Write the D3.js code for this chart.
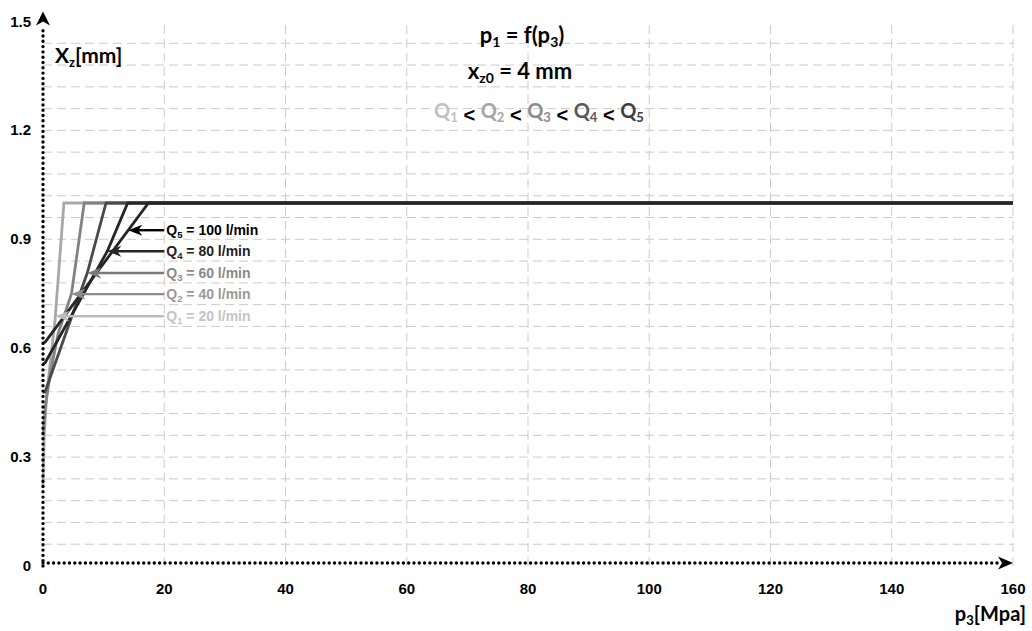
<!DOCTYPE html>
<html>
<head>
<meta charset="utf-8">
<script src="https://cdn.jsdelivr.net/npm/d3@7"></script>
<style>
  body { margin: 0; background: #fff; }
  svg { display: block; }
</style>
</head>
<body>
<svg width="1032" height="631"></svg>
<script>
// flow rates and their curves x_z = f(p3)
var flowNames = ["Q1", "Q2", "Q3", "Q4", "Q5"];
var flowRates = [20, 40, 60, 80, 100];
var p3Q1 = [0, 0.2, 0.6, 1.2, 2.0, 3.45, 160];
var xzQ1 = [0.22, 0.36, 0.47, 0.56, 0.68, 1.0, 1.0];
var p3Q2 = [0, 0.4, 1.2, 2.5, 4.7, 6.8, 160];
var xzQ2 = [0.36, 0.44, 0.53, 0.64, 0.75, 1.0, 1.0];
var p3Q3 = [0, 0.35, 7.3, 10.4, 160];
var xzQ3 = [0.477, 0.48, 0.807, 1.0, 1.0];
var p3Q4 = [0, 0.35, 10.6, 13.97, 160];
var xzQ4 = [0.556, 0.56, 0.867, 1.0, 1.0];
var p3Q5 = [0, 0.35, 17.4, 160];
var xzQ5 = [0.614, 0.617, 1.0, 1.0];
var labelLevels = [0.688, 0.749, 0.807, 0.867, 0.925];   // where the arrows hit
var labelStartP = 20;

var xTicks = [0, 20, 40, 60, 80, 100, 120, 140, 160];
var yTicks = [0, 0.3, 0.6, 0.9, 1.2, 1.5];
var yGrid = d3.range(1, 25).map(i => i * 0.06);

var lineColors  = ["#a8a8a8", "#828282", "#4a4a4a", "#262626", "#262626"];
var labelColors = ["#c4c4c4", "#9a9a9a", "#8a8a8a", "#1e1e1e", "#000000"];
var arrowColors = ["#bdbdbd", "#8c8c8c", "#7a7a7a", "#262626", "#000000"];
var titleQColors = ["#bfbfbf", "#a6a6a6", "#8c8c8c", "#595959", "#404040"];

var series = [
    {p: p3Q1, x: xzQ1}, {p: p3Q2, x: xzQ2}, {p: p3Q3, x: xzQ3},
    {p: p3Q4, x: xzQ4}, {p: p3Q5, x: xzQ5}
].map(function(s, i) {
    return { name: flowNames[i], rate: flowRates[i],
             pts: s.p.map((v, j) => [v, s.x[j]]) };
});

var svg = d3.select("svg");
var sx = d3.scaleLinear().domain([0, 160]).range([43, 1013]);
var sy = d3.scaleLinear().domain([0, 1.5]).range([566, 21.5]);

var sans = "'Liberation Sans', Arial, sans-serif";
var cal = "Lato, 'Open Sans', sans-serif";

// grid
var grid = svg.append("g").attr("stroke", "#cbcbcb").attr("stroke-width", 1)
    .attr("stroke-dasharray", "9,5");
grid.selectAll(".hg").data(yGrid).enter().append("line")
    .attr("x1", sx(0)).attr("x2", sx(160))
    .attr("y1", d => sy(d)).attr("y2", d => sy(d));
grid.selectAll(".vg").data(xTicks.slice(1)).enter().append("line")
    .attr("x1", d => sx(d)).attr("x2", d => sx(d))
    .attr("y1", sy(0)).attr("y2", sy(1.5));

// curves
var lineMaker = d3.line().x(d => sx(d[0])).y(d => sy(d[1]));
svg.append("g").selectAll("path").data(series).enter().append("path")
    .attr("fill", "none")
    .attr("stroke", (d, i) => lineColors[i])
    .attr("stroke-width", 2.8)
    .attr("stroke-linejoin", "miter")
    .attr("d", d => lineMaker(d.pts));

// axes (dotted with arrows)
var axisY0 = sy(0) - 3;
svg.append("line")
    .attr("x1", sx(0)).attr("x2", sx(0))
    .attr("y1", sy(0)).attr("y2", sy(1.5) + 4)
    .attr("stroke", "#000").attr("stroke-width", 3.4)
    .attr("stroke-linecap", "round").attr("stroke-dasharray", "0,5.3");
svg.append("line")
    .attr("x1", sx(0)).attr("x2", sx(160) - 12)
    .attr("y1", axisY0).attr("y2", axisY0)
    .attr("stroke", "#000").attr("stroke-width", 3.4)
    .attr("stroke-linecap", "round").attr("stroke-dasharray", "0,5.3");
var ty = sy(1.5) - 10, tx = sx(0);
svg.append("path")
    .attr("d", `M${tx},${ty} L${tx + 7},${ty + 14} L${tx},${ty + 10} L${tx - 7},${ty + 14} Z`)
    .attr("fill", "#000");
var ax = sx(160);
svg.append("path")
    .attr("d", `M${ax},${axisY0} L${ax - 15},${axisY0 - 6.5} L${ax - 11},${axisY0} L${ax - 15},${axisY0 + 6.5} Z`)
    .attr("fill", "#000");

// tick labels
svg.append("g").selectAll("text").data(xTicks).enter().append("text")
    .attr("x", d => sx(d)).attr("y", 594)
    .attr("text-anchor", "middle")
    .attr("font-family", sans).attr("font-weight", "bold").attr("font-size", 15)
    .text(d => d);
svg.append("g").selectAll("text").data(yTicks).enter().append("text")
    .attr("x", 31).attr("y", d => sy(d) + 5)
    .attr("text-anchor", "end")
    .attr("font-family", sans).attr("font-weight", "bold").attr("font-size", 15)
    .text(d => d);

// axis titles
var yl = svg.append("text").attr("x", 55).attr("y", 63)
    .attr("font-family", cal).attr("font-weight", "bold").attr("font-size", 21);
yl.append("tspan").text("X");
yl.append("tspan").attr("font-size", 13).attr("dy", 4).text("z");
yl.append("tspan").attr("dy", -4).text("[mm]");

var xl = svg.append("text").attr("x", 1026).attr("y", 621).attr("text-anchor", "end")
    .attr("font-family", cal).attr("font-weight", "bold").attr("font-size", 20);
xl.append("tspan").text("p");
xl.append("tspan").attr("font-size", 13).attr("dy", 4).text("3");
xl.append("tspan").attr("dy", -4).text("[Mpa]");

// titles
var t1 = svg.append("text").attr("x", 522).attr("y", 43).attr("text-anchor", "middle")
    .attr("font-family", cal).attr("font-weight", "bold").attr("font-size", 22);
t1.append("tspan").text("p");
t1.append("tspan").attr("font-size", 14).attr("dy", 4).text("1");
t1.append("tspan").attr("dy", -4).text(" = f(p");
t1.append("tspan").attr("font-size", 14).attr("dy", 4).text("3");
t1.append("tspan").attr("dy", -4).text(")");

var t2 = svg.append("text").attr("x", 520).attr("y", 79).attr("text-anchor", "middle")
    .attr("font-family", cal).attr("font-weight", "bold").attr("font-size", 22);
t2.append("tspan").text("x");
t2.append("tspan").attr("font-size", 14).attr("dy", 4).text("z0");
t2.append("tspan").attr("dy", -4).text(" = 4 mm");

var t3 = svg.append("text").attr("x", 539).attr("y", 118).attr("text-anchor", "middle")
    .attr("font-family", cal).attr("font-weight", "bold").attr("font-size", 20);
flowNames.forEach(function(n, i) {
    t3.append("tspan").attr("fill", titleQColors[i]).attr("dy", i ? -4 : 0).text("Q");
    t3.append("tspan").attr("fill", titleQColors[i]).attr("font-size", 13).attr("dy", 4).text(n.slice(1));
    if (i < 4) t3.append("tspan").attr("fill", "#000").attr("font-family", sans)
        .attr("font-size", 20).text(" < ");
});

// annotation arrows: tip where the curve reaches the level
function crossP(pts, level) {
    for (var k = 1; k < pts.length; k++) {
        var a = pts[k - 1], b = pts[k];
        if ((a[1] - level) * (b[1] - level) <= 0 && a[1] !== b[1])
            return a[0] + (level - a[1]) / (b[1] - a[1]) * (b[0] - a[0]);
    }
    return pts[0][0];
}
var ann = svg.append("g");
series.forEach(function(s, i) {
    var yy = sy(labelLevels[i]);
    var tip = sx(crossP(s.pts, labelLevels[i]));
    var x0 = sx(labelStartP);
    ann.append("line").attr("x1", x0).attr("x2", tip + 8).attr("y1", yy).attr("y2", yy)
        .attr("stroke", arrowColors[i]).attr("stroke-width", 2.4);
    ann.append("path")
        .attr("d", `M${tip},${yy} L${tip + 14},${yy - 5.5} L${tip + 10},${yy} L${tip + 14},${yy + 5.5} Z`)
        .attr("fill", arrowColors[i]);
    var lt = ann.append("text").attr("x", x0 + 2).attr("y", yy + 5)
        .attr("fill", labelColors[i])
        .attr("font-family", sans).attr("font-weight", "bold").attr("font-size", 14);
    lt.append("tspan").text("Q");
    lt.append("tspan").attr("font-size", 9.5).attr("dy", 3).text(s.name.slice(1));
    lt.append("tspan").attr("dy", -3).text(" = " + s.rate + " l/min");
});
</script>
</body>
</html>
